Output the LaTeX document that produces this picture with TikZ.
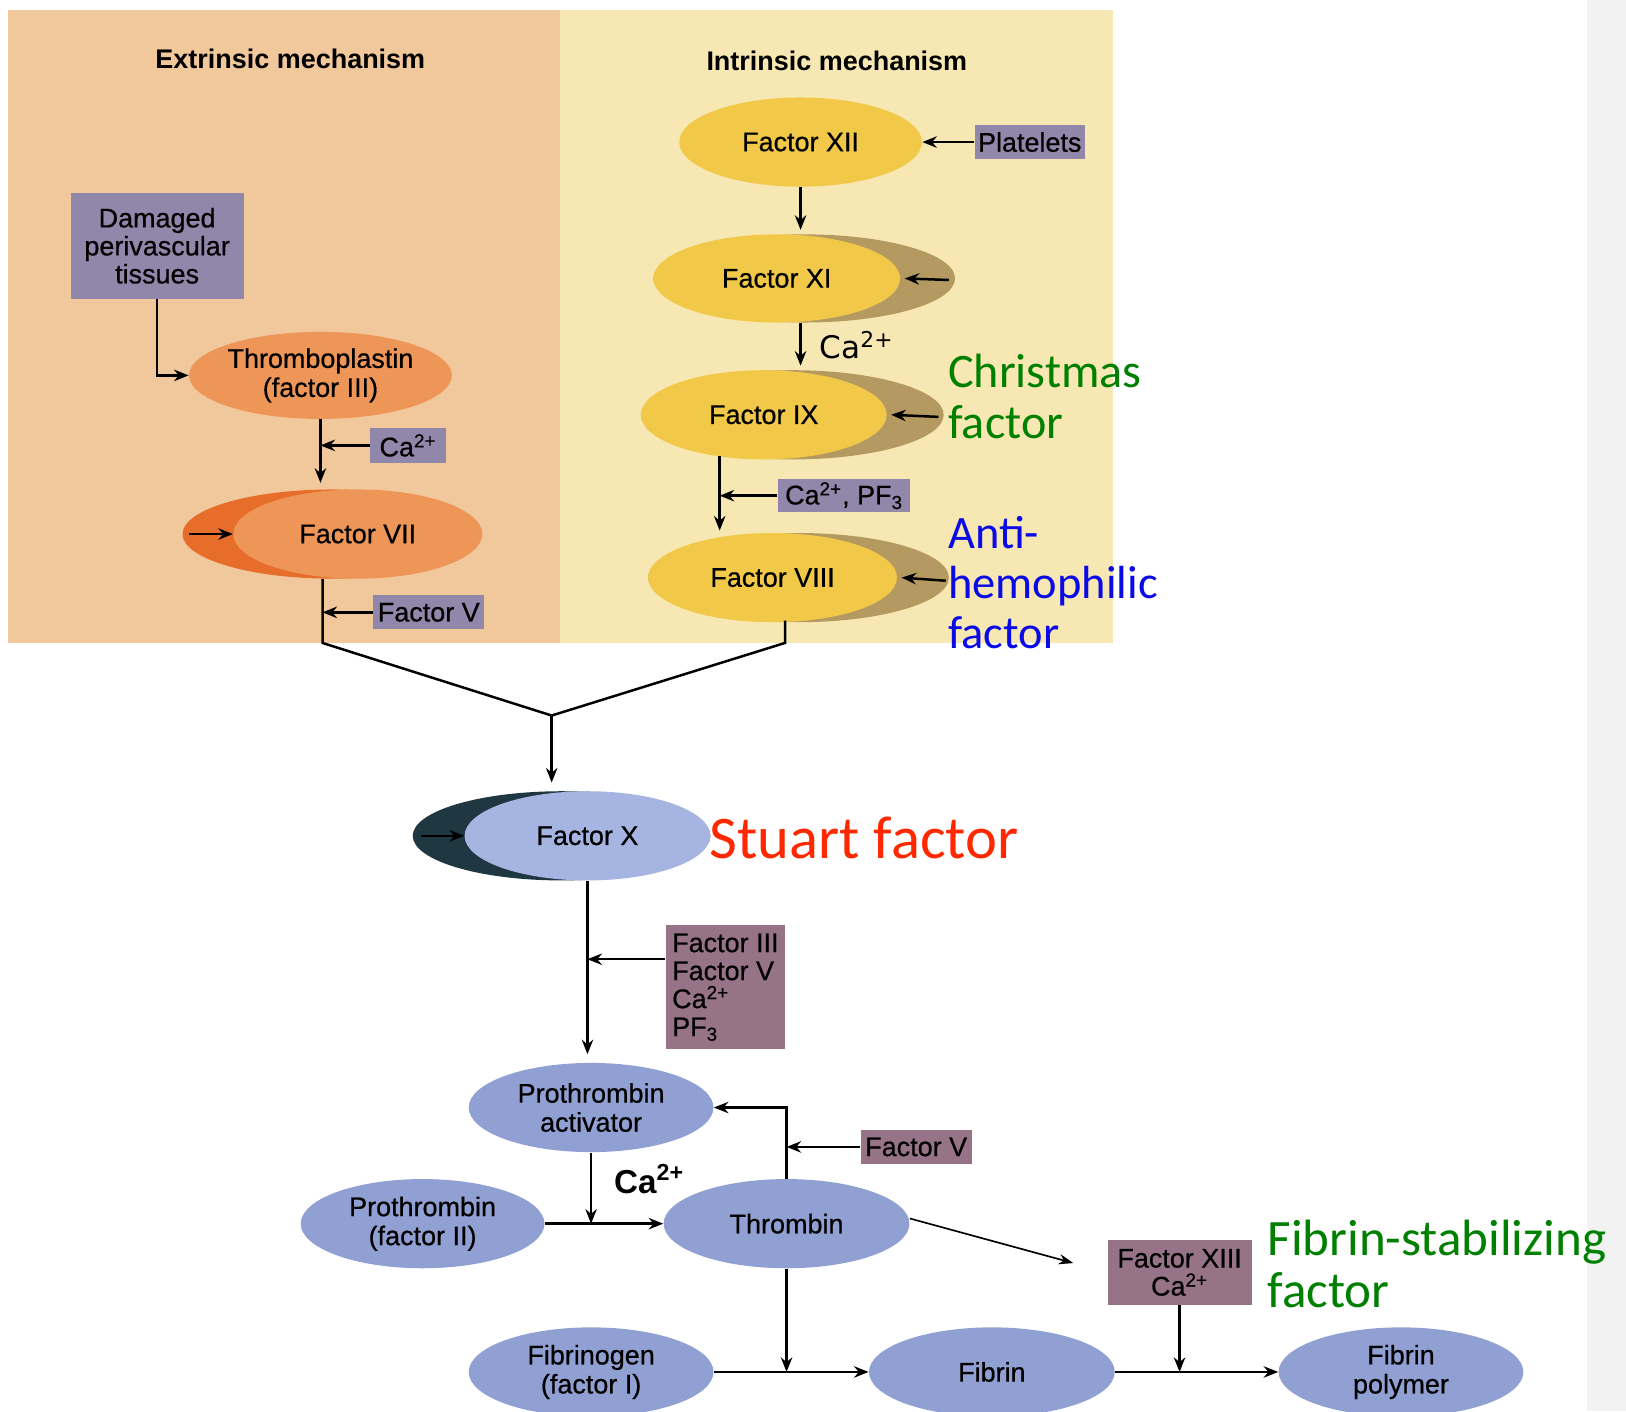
\documentclass[tikz,border=0pt]{standalone}
\usepackage{fontspec}
\setmainfont{Liberation Sans}
\newfontfamily\comicf{Carlito}
\newfontfamily\dejavuf{DejaVu Sans}
\newfontfamily\labf[FakeBold=0.6]{Liberation Sans}
\usetikzlibrary{shapes.geometric,arrows.meta}
\definecolor{extbg}{RGB}{241,199,156}
\definecolor{intbg}{RGB}{247,231,178}
\definecolor{thrcol}{RGB}{238,150,88}
\definecolor{fsevout}{RGB}{230,110,42}
\definecolor{yel}{RGB}{241,200,72}
\definecolor{olive}{RGB}{180,154,96}
\definecolor{pbox}{RGB}{145,135,170}
\definecolor{mbox}{RGB}{150,115,135}
\definecolor{bluel}{RGB}{145,160,210}
\definecolor{fxdark}{RGB}{30,55,65}
\definecolor{fxin}{RGB}{165,180,225}
\definecolor{anngreen}{RGB}{0,128,0}
\definecolor{annblue}{RGB}{10,10,230}
\definecolor{annred}{RGB}{255,40,0}
\tikzset{
  el/.style={ellipse, inner sep=0pt, align=center, font=\labf\fontsize{13}{14}\selectfont},
  pb/.style={rectangle, inner sep=0pt, align=center, fill=pbox, font=\labf\fontsize{13}{13.5}\selectfont},
  mb/.style={rectangle, inner sep=0pt, fill=mbox, font=\labf\fontsize{13}{13.5}\selectfont},
  ttl/.style={font=\fontsize{13}{14}\selectfont\bfseries},
  arr/.style={-{Stealth[length=7pt,width=5.5pt]}, line width=1.2pt},
  ln/.style={line width=1.2pt},
  ann/.style={anchor=west, align=left, inner sep=0pt},
}
\begin{document}
\begin{tikzpicture}[x=0.5pt,y=-0.5pt]
\useasboundingbox (0,0) rectangle (1568,1361);
\fill[white] (0,0) rectangle (1568,1361);
\fill[gray!10] (1530,0) rectangle (1568,1361);
% panels
\fill[extbg] (8,10) rectangle (540,620);
\fill[intbg] (540,10) rectangle (1073,620);
\node[ttl] (ttlE) at (280,57) {Extrinsic mechanism};
\node[ttl] (ttlI) at (807,59) {Intrinsic mechanism};

% extrinsic
\node[pb, minimum width=83.5pt, minimum height=51pt] (dmg) at (151.5,237) {Damaged\\perivascular\\tissues};
\node[el, fill=thrcol, minimum width=118pt, minimum height=42pt] (thr) at (309,362) {Thromboplastin\\(factor III)};
\node[pb, minimum width=36.5pt, minimum height=16.5pt] (caA) at (393.5,429.5) {Ca\textsuperscript{2+}};
\node[el, fill=fsevout, minimum width=144.5pt, minimum height=43pt] (f7o) at (320.5,515) {};
\node[el, fill=thrcol, minimum width=120pt, minimum height=43pt] (f7i) at (345,515) {Factor VII};
\node[pb, minimum width=53.5pt, minimum height=16.5pt] (f5a) at (413.5,590.5) {Factor V};
\coordinate (f7src) at (182,515);
\coordinate (c7) at (311,620);

\draw[arr] (dmg.south) |- (thr.west);
\draw[arr] (thr.south) -- ([yshift=3pt]thr.south |- f7o.north);
\draw[arr] (caA.west) -- (caA.west -| thr.south);
\draw[arr] (f7src) -- (f7i.west);

% intrinsic
\node[el, fill=yel, minimum width=117pt, minimum height=43pt] (f12) at (772,137) {Factor XII};
\node[pb, minimum width=53pt, minimum height=16pt] (plt) at (993,137) {Platelets};
\node[el, fill=olive, minimum width=145.5pt, minimum height=42.5pt] (f11o) at (775.5,268.5) {};
\node[el, fill=yel, minimum width=119pt, minimum height=42.5pt] (f11i) at (749,268.5) {Factor XI};
\node[el, fill=olive, minimum width=146pt, minimum height=43pt] (f9o) at (764,400) {};
\node[el, fill=yel, minimum width=118.5pt, minimum height=43pt] (f9i) at (736.5,400) {Factor IX};
\node[pb, minimum width=64pt, minimum height=16pt] (cpf) at (814,478) {Ca\textsuperscript{2+}, PF\textsubscript{3}};
\node[el, fill=olive, minimum width=145pt, minimum height=43pt] (f8o) at (770,557) {};
\node[el, fill=yel, minimum width=120pt, minimum height=43pt] (f8i) at (745,557) {Factor VIII};
\node[anchor=west, inner sep=0pt, font=\dejavuf\fontsize{15}{16}\selectfont] (caB) at (790,333) {Ca\textsuperscript{2+}};
\coordinate (f11src) at (915,270);
\coordinate (f9src) at (905,402);
\coordinate (f8src) at (912,560);
\coordinate (x694) at (694,0);
\coordinate (x772) at (772,0);
\coordinate (c8) at (757,620);

\draw[arr] (plt.west) -- (f12.east);
\draw[arr] (f12.south) -- ([yshift=2pt]f12.south |- f11o.north);
\draw[arr] (f11src) -- ([xshift=2pt]f11i.east);
\draw[arr] (x772 |- f11o.south) -- ([yshift=2pt]x772 |- f9o.north);
\draw[arr] (f9src) -- ([xshift=2pt]f9i.east);
\draw[arr] ([yshift=2pt]x694 |- f9o.south) -- ([yshift=1pt]x694 |- f8o.north);
\draw[arr] (cpf.west) -- (cpf.west -| x694);
\draw[arr] (f8src) -- ([xshift=2pt]f8i.east);

\node[ann, text=anngreen, font=\comicf\fontsize{23.2}{24.5}\selectfont] (chr) at (914,382) {Christmas\\factor};
\node[ann, text=annblue, font=\comicf\fontsize{22.4}{24.25}\selectfont] (ahf) at (914,562) {Anti-\\hemophilic\\factor};

% merge
\coordinate (jn) at (532,690);
\draw[ln] (c7 |- f7o.south) -- (c7) -- (jn);
\draw[arr] (f5a.west) -- (f5a.west -| c7);
\draw[ln] ([yshift=1pt]c8 |- f8o.south) -- (c8) -- (jn);

% Factor X
\node[el, fill=fxdark, minimum width=143.5pt, minimum height=43pt] (fxo) at (541.5,806) {};
\node[el, fill=fxin, minimum width=118.5pt, minimum height=43pt] (fxi) at (566.5,806) {Factor X};
\coordinate (fxsrc) at (406,806);
\draw[arr] (fxsrc) -- (fxi.west);
\draw[arr] (jn) -- ([yshift=4pt]jn |- fxo.north);
\node[ann, text=annred, font=\comicf\fontsize{29.2}{30}\selectfont] (stu) at (684,808) {Stuart factor};

% lower part
\node[mb, minimum width=57.5pt, minimum height=60pt, align=left] (f3box) at (699.5,952) {Factor III\\Factor V\\Ca\textsuperscript{2+}\\PF\textsubscript{3}};
\node[el, fill=bluel, minimum width=118pt, minimum height=43pt] (pa) at (570,1068) {Prothrombin\\activator};
\node[el, fill=bluel, minimum width=117.5pt, minimum height=43pt] (pt) at (407.5,1180) {Prothrombin\\(factor II)};
\node[el, fill=bluel, minimum width=118.5pt, minimum height=43pt] (thb) at (758.5,1180) {Thrombin};
\node[el, fill=bluel, minimum width=118pt, minimum height=43pt] (fg) at (570,1323) {Fibrinogen\\(factor I)};
\node[el, fill=bluel, minimum width=118.5pt, minimum height=43pt] (fb) at (956.5,1323) {Fibrin};
\node[el, fill=bluel, minimum width=118pt, minimum height=43pt] (fp) at (1351,1323) {Fibrin\\polymer};
\node[mb, minimum width=53.5pt, minimum height=16pt] (f5b) at (883.5,1106) {Factor V};
\node[mb, minimum width=69.5pt, minimum height=31pt, align=center] (f13) at (1137.5,1227) {Factor XIII\\Ca\textsuperscript{2+}};
\node[font=\fontsize{16}{17}\selectfont\bfseries, inner sep=0pt] (caC) at (626,1137) {Ca\textsuperscript{2+}};
\node[ann, text=anngreen, font=\comicf\fontsize{24.6}{25}\selectfont] (fsf) at (1222,1219) {Fibrin-stabilizing\\factor};
\coordinate (f13tip) at (1035,1218);

\draw[arr] (fxi.south) -- ([yshift=4pt]fxi.south |- pa.north);
\draw[arr] ([yshift=13.5pt]f3box.west) -- ([yshift=13.5pt]f3box.west -| fxi.south);
\draw[arr] (thb.north) |- (pa.east);
\draw[arr] (f5b.west) -- (f5b.west -| thb.north);
\draw[arr] (pa.south) -- (pa.south |- pt.east);
\draw[arr] (pt.east) -- (thb.west);
\draw[-{Stealth[length=7pt,width=5pt]}, line width=0.8pt] ([yshift=2.5pt]thb.east) -- (f13tip);
\draw[arr] (thb.south) -- (thb.south |- fg.east);
\draw[arr] (fg.east) -- (fb.west);
\draw[arr] (f13.south) -- (f13.south |- fb.east);
\draw[arr] (fb.east) -- (fp.west);
\end{tikzpicture}
\end{document}
